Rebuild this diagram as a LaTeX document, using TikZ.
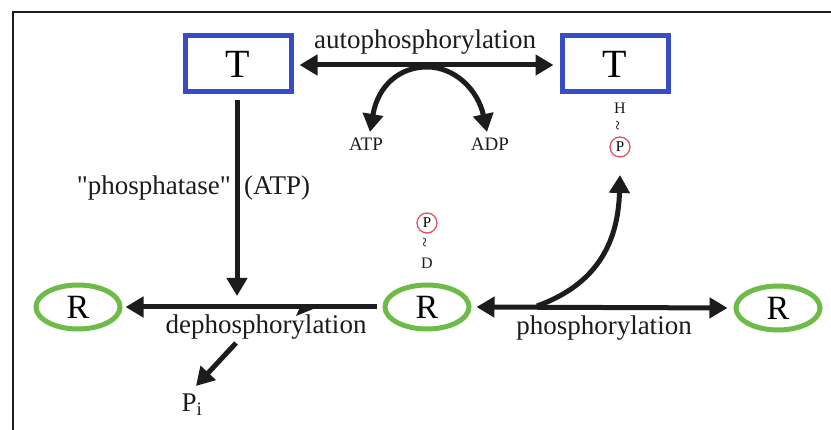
\documentclass[tikz,border=0pt]{standalone}
\usepackage{fontspec}
\setmainfont{Liberation Serif}
\usetikzlibrary{arrows.meta,shapes.geometric,calc}
\definecolor{boxblue}{RGB}{58,76,196}
\definecolor{rgreen}{RGB}{110,188,72}
\definecolor{pred}{RGB}{226,80,100}
\definecolor{ink}{RGB}{28,28,30}
\tikzset{
  tbox/.style={draw=boxblue,line width=5pt,minimum width=106pt,minimum height=56pt,inner sep=0pt,font=\fontsize{40}{44}\selectfont},
  rell/.style={draw=rgreen,ellipse,line width=5pt,minimum width=84pt,minimum height=44pt,inner sep=0pt,font=\fontsize{34}{38}\selectfont},
  lbl/.style={inner sep=0pt,font=\fontsize{27}{30}\selectfont,text=ink},
  sml/.style={inner sep=0pt,font=\fontsize{19}{21}\selectfont,text=ink},
  tiny/.style={inner sep=0pt,font=\fontsize{16}{18}\selectfont,text=ink},
  wav/.style={inner sep=0pt,rotate=90,font=\fontsize{18}{18}\selectfont,text=ink},
  pcirc/.style={circle,draw=pred,line width=1.3pt,minimum size=20pt,inner sep=0pt,font=\fontsize{15}{17}\selectfont},
  arr/.style={draw=ink,line width=5pt,-{Triangle[length=18pt,width=20pt]}},
  darr/.style={draw=ink,line width=5pt,{Triangle[length=18pt,width=20pt]}-{Triangle[length=18pt,width=20pt]}},
}
\begin{document}
\begin{tikzpicture}[x=1pt,y=-1pt]
\useasboundingbox (0,0) rectangle (831,430);
\fill[white] (0,0) rectangle (831,430);
% frame
\draw[ink,line width=2pt] (13,430) -- (13,12) -- (831,12);
% T boxes
\node[tbox] (T1) at (238,64) {T};
\node[tbox] (T2) at (615,64) {T};
% R ellipses
\node[rell] (R1) at (78,307) {R};
\node[rell] (R2) at (427,307) {R};
\node[rell] (R3) at (778,308) {R};
% labels
\node[lbl] (auto) at (425,42) {autophosphorylation};
\node[lbl] (deph) at (266,327) {dephosphorylation};
\node[lbl] (phos) at (604,328) {phosphorylation};
\node[lbl,anchor=east] (phtase) at (231,188) {\textquotedbl phosphatase\textquotedbl};
\node[lbl,anchor=west] (atpc) at (244,188) {(ATP)};
\node[sml] (ATP) at (366,144) {ATP};
\node[sml] (ADP) at (490,144) {ADP};
\node[lbl] (Pi) at (192,405) {P\textsubscript{i}};
% H~P
\node[tiny] (H) at (620,108) {H};
\node[wav] (t1) at (620,126) {\char`~};
\node[pcirc] (P1) at (620,147) {P};
% P~D
\node[pcirc] (P2) at (427,223) {P};
\node[wav] (t2) at (427,243) {\char`~};
\node[tiny] (D) at (427,263) {D};
% coordinates
\coordinate (apeak) at (427,67);
\coordinate (atpEnd) at (370,132);
\coordinate (adpEnd) at (487,132);
\coordinate (vstart) at (237,100);
\coordinate (vend) at (237,296);
\coordinate (piStart) at (236,343);
\coordinate (piEnd) at (196,386);
\coordinate (cstart) at (537,306);
\coordinate (cend) at (620,175);
% arrows
\draw[darr,shorten <=6pt,shorten >=6pt] ($(T1.east)+(0,1)$) -- ($(T2.west)+(0,1)$);
\draw[darr] (atpEnd) .. controls (378,85) and (400,67) .. (apeak) .. controls (455,67) and (478,90) .. (adpEnd);
\draw[arr] (vstart) -- (vend);
\draw[arr,shorten <=6pt,shorten >=3pt] (R2.west) -- (R1.east);
\fill[ink] (296,316) -- (318,307) -- (300,307) -- cycle;
\draw[arr] (piStart) -- (piEnd);
\draw[darr,shorten <=5pt,shorten >=6pt] (R2.east) -- (R3.west);
\draw[arr] (cstart) .. controls (595,285) and (618,245) .. (cend);
\end{tikzpicture}
\end{document}
